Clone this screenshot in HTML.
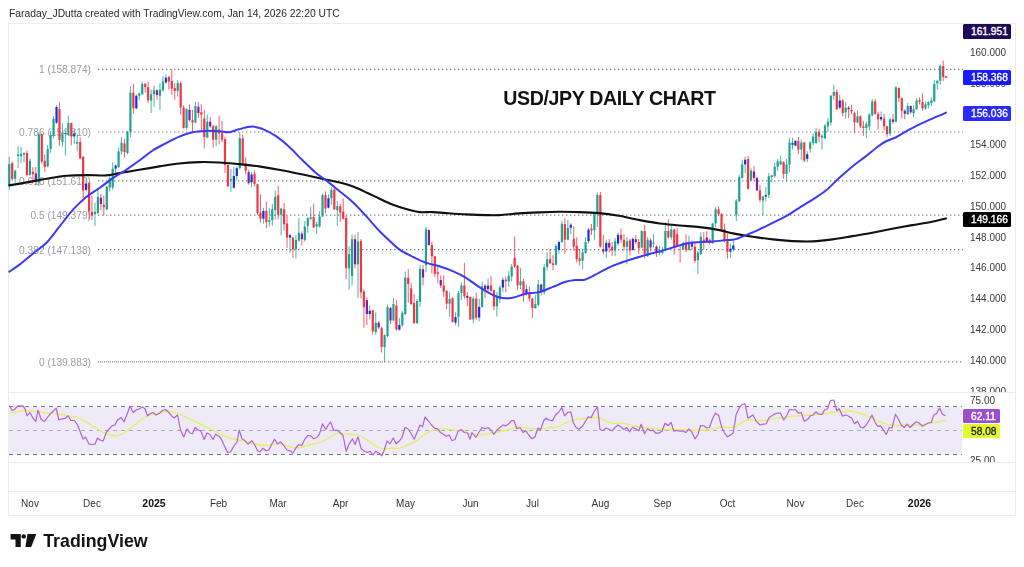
<!DOCTYPE html><html><head><meta charset="utf-8"><title>USD/JPY Daily Chart</title><style>
html,body{margin:0;padding:0;background:#fff}
body{width:1024px;height:567px;position:relative;overflow:hidden;font-family:"Liberation Sans",sans-serif}
.t{position:absolute;white-space:nowrap;line-height:1;will-change:opacity}
.hdr{left:9px;top:9.2px;font-size:10.3px;color:#2a2a2a}
.title{left:503.3px;top:89.2px;font-size:19.6px;letter-spacing:-0.38px;font-weight:bold;color:#111}
.ax{font-size:10px;color:#3a3a3a;left:970px}
.fib{font-size:10.2px;color:#9a9da6;text-align:right;width:84px;left:7px}
.tm{font-size:10px;color:#333;top:498.5px;margin-left:0.5px;transform:translateX(-50%)}
.tm.b{font-weight:bold;font-size:10.5px;color:#111;margin-top:-0.5px}
.box{position:absolute;left:963px;width:40px;padding-left:8px;height:14.5px;font-size:10.2px;color:#fff;line-height:15.5px;text-align:left;white-space:nowrap;border-radius:1.5px;-webkit-text-stroke:0.35px #fff}
.logo{left:43.2px;top:532.7px;font-size:17.8px;font-weight:bold;color:#131313;letter-spacing:0px}
.clip{position:absolute;overflow:hidden;left:965px;width:50px}

</style></head><body>
<div class="t fib" style="top:65.1px">1 (158.874)</div>
<div class="t fib" style="top:127.7px">0.786 (154.810)</div>
<div class="t fib" style="top:177.0px">0.618 (151.610)</div>
<div class="t fib" style="top:211.4px">0.5 (149.379)</div>
<div class="t fib" style="top:245.9px">0.382 (147.138)</div>
<div class="t fib" style="top:357.6px">0 (139.883)</div>
<svg width="1024" height="567" viewBox="0 0 1024 567" style="position:absolute;left:0;top:0">
<rect x="8.5" y="23.5" width="1007" height="492" fill="none" stroke="#ececf0" stroke-width="1"/>
<line x1="8.5" x2="1015.5" y1="392.5" y2="392.5" stroke="#ececf0" stroke-width="1"/>
<line x1="8.5" x2="1015.5" y1="462.5" y2="462.5" stroke="#ececf0" stroke-width="1"/>
<line x1="8.5" x2="1015.5" y1="491.5" y2="491.5" stroke="#ececf0" stroke-width="1"/>
<rect x="9" y="406.5" width="953" height="48" fill="#efeaf8"/>
<line x1="9" x2="962" y1="406.5" y2="406.5" stroke="#787b86" stroke-width="1" stroke-dasharray="4 4"/>
<line x1="9" x2="962" y1="430.5" y2="430.5" stroke="#a9abb5" stroke-width="1" stroke-dasharray="4 4"/>
<line x1="9" x2="962" y1="454.5" y2="454.5" stroke="#787b86" stroke-width="1" stroke-dasharray="4 4"/>
<line x1="98" x2="963" y1="69.4" y2="69.4" stroke="#7f828c" stroke-width="1.2" stroke-dasharray="1.4 2.6"/>
<line x1="98" x2="963" y1="132.0" y2="132.0" stroke="#7f828c" stroke-width="1.2" stroke-dasharray="1.4 2.6"/>
<line x1="98" x2="963" y1="180.8" y2="180.8" stroke="#7f828c" stroke-width="1.2" stroke-dasharray="1.4 2.6"/>
<line x1="98" x2="963" y1="215.2" y2="215.2" stroke="#7f828c" stroke-width="1.2" stroke-dasharray="1.4 2.6"/>
<line x1="98" x2="963" y1="249.6" y2="249.6" stroke="#7f828c" stroke-width="1.2" stroke-dasharray="1.4 2.6"/>
<line x1="98" x2="384" y1="361.9" y2="361.9" stroke="#7f828c" stroke-width="1.2" stroke-dasharray="1 1"/>
<line x1="384" x2="963" y1="361.9" y2="361.9" stroke="#7f828c" stroke-width="1.2" stroke-dasharray="1.4 2.6"/>
<rect x="8.74" y="156.9" width="1" height="33.0" fill="#1fa391" opacity="0.8"/>
<rect x="8.14" y="164.0" width="2.2" height="21.2" fill="#1fa391"/>
<rect x="11.70" y="161.6" width="1" height="19.6" fill="#f23645" opacity="0.8"/>
<rect x="11.10" y="163.2" width="2.2" height="15.7" fill="#f23645"/>
<rect x="14.65" y="169.5" width="1" height="13.3" fill="#1fa391" opacity="0.8"/>
<rect x="14.05" y="171.0" width="2.2" height="7.8" fill="#1fa391"/>
<rect x="17.61" y="145.9" width="1" height="22.0" fill="#1fa391" opacity="0.8"/>
<rect x="17.01" y="154.5" width="2.2" height="1.6" fill="#1fa391"/>
<rect x="20.56" y="146.7" width="1" height="16.5" fill="#1fa391" opacity="0.8"/>
<rect x="19.96" y="153.8" width="2.2" height="2.4" fill="#1fa391"/>
<rect x="23.52" y="152.2" width="1" height="10.2" fill="#1fa391" opacity="0.8"/>
<rect x="22.92" y="153.0" width="2.2" height="1.6" fill="#1fa391"/>
<rect x="26.47" y="150.6" width="1" height="25.9" fill="#f23645" opacity="0.8"/>
<rect x="25.87" y="153.0" width="2.2" height="22.0" fill="#f23645"/>
<rect x="29.43" y="158.5" width="1" height="17.3" fill="#1fa391" opacity="0.8"/>
<rect x="28.83" y="160.8" width="2.2" height="14.1" fill="#1fa391"/>
<rect x="32.38" y="167.1" width="1" height="15.7" fill="#f23645" opacity="0.8"/>
<rect x="31.78" y="171.8" width="2.2" height="2.4" fill="#f23645"/>
<rect x="35.34" y="167.1" width="1" height="18.1" fill="#f23645" opacity="0.8"/>
<rect x="34.74" y="173.4" width="2.2" height="7.8" fill="#7a1fa2"/>
<rect x="38.30" y="132.6" width="1" height="53.4" fill="#1fa391" opacity="0.8"/>
<rect x="37.70" y="134.4" width="2.2" height="48.4" fill="#1fa391"/>
<rect x="41.25" y="133.3" width="1" height="30.6" fill="#f23645" opacity="0.8"/>
<rect x="40.65" y="134.4" width="2.2" height="27.2" fill="#f23645"/>
<rect x="44.21" y="154.5" width="1" height="17.3" fill="#f23645" opacity="0.8"/>
<rect x="43.61" y="160.8" width="2.2" height="6.3" fill="#f23645"/>
<rect x="47.16" y="145.1" width="1" height="22.0" fill="#1fa391" opacity="0.8"/>
<rect x="46.56" y="149.0" width="2.2" height="17.3" fill="#1fa391"/>
<rect x="50.12" y="131.0" width="1" height="22.0" fill="#1fa391" opacity="0.8"/>
<rect x="49.52" y="134.9" width="2.2" height="14.1" fill="#1fa391"/>
<rect x="53.07" y="116.1" width="1" height="22.0" fill="#1fa391" opacity="0.8"/>
<rect x="52.47" y="118.7" width="2.2" height="17.0" fill="#1fa391"/>
<rect x="56.03" y="105.1" width="1" height="18.8" fill="#1fa391" opacity="0.8"/>
<rect x="55.43" y="107.0" width="2.2" height="15.7" fill="#1432d8"/>
<rect x="58.98" y="101.9" width="1" height="44.0" fill="#f23645" opacity="0.8"/>
<rect x="58.38" y="109.0" width="2.2" height="30.8" fill="#f23645"/>
<rect x="61.94" y="123.6" width="1" height="23.1" fill="#1fa391" opacity="0.8"/>
<rect x="61.34" y="134.1" width="2.2" height="7.8" fill="#1fa391"/>
<rect x="64.89" y="131.0" width="1" height="24.3" fill="#1fa391" opacity="0.8"/>
<rect x="64.29" y="133.0" width="2.2" height="1.2" fill="#1fa391"/>
<rect x="67.85" y="115.8" width="1" height="19.9" fill="#1fa391" opacity="0.8"/>
<rect x="67.25" y="123.1" width="2.2" height="11.8" fill="#1fa391"/>
<rect x="70.81" y="122.4" width="1" height="22.8" fill="#f23645" opacity="0.8"/>
<rect x="70.21" y="123.1" width="2.2" height="13.3" fill="#f23645"/>
<rect x="73.76" y="129.4" width="1" height="14.9" fill="#1fa391" opacity="0.8"/>
<rect x="73.16" y="133.3" width="2.2" height="3.1" fill="#1432d8"/>
<rect x="76.72" y="134.1" width="1" height="17.3" fill="#1fa391" opacity="0.8"/>
<rect x="76.12" y="142.0" width="2.2" height="1.6" fill="#1fa391"/>
<rect x="79.67" y="137.3" width="1" height="22.0" fill="#f23645" opacity="0.8"/>
<rect x="79.07" y="142.0" width="2.2" height="16.5" fill="#f23645"/>
<rect x="82.63" y="156.1" width="1" height="42.4" fill="#f23645" opacity="0.8"/>
<rect x="82.03" y="156.9" width="2.2" height="33.8" fill="#f23645"/>
<rect x="85.58" y="178.9" width="1" height="12.6" fill="#1fa391" opacity="0.8"/>
<rect x="84.98" y="183.6" width="2.2" height="6.3" fill="#1432d8"/>
<rect x="88.54" y="182.0" width="1" height="37.2" fill="#f23645" opacity="0.8"/>
<rect x="87.94" y="182.8" width="2.2" height="28.6" fill="#f23645"/>
<rect x="91.49" y="195.4" width="1" height="24.6" fill="#f23645" opacity="0.8"/>
<rect x="90.89" y="211.8" width="2.2" height="3.9" fill="#f23645"/>
<rect x="94.45" y="202.6" width="1" height="23.4" fill="#1fa391" opacity="0.8"/>
<rect x="93.85" y="211.8" width="2.2" height="2.4" fill="#1fa391"/>
<rect x="97.40" y="187.5" width="1" height="26.7" fill="#1fa391" opacity="0.8"/>
<rect x="96.80" y="196.9" width="2.2" height="16.0" fill="#1fa391"/>
<rect x="100.36" y="193.8" width="1" height="16.5" fill="#f23645" opacity="0.8"/>
<rect x="99.76" y="197.7" width="2.2" height="6.3" fill="#7a1fa2"/>
<rect x="103.32" y="195.4" width="1" height="19.9" fill="#f23645" opacity="0.8"/>
<rect x="102.72" y="204.8" width="2.2" height="2.4" fill="#f23645"/>
<rect x="106.27" y="185.9" width="1" height="24.3" fill="#1fa391" opacity="0.8"/>
<rect x="105.67" y="186.7" width="2.2" height="22.8" fill="#1fa391"/>
<rect x="109.23" y="174.2" width="1" height="17.3" fill="#1fa391" opacity="0.8"/>
<rect x="108.63" y="178.1" width="2.2" height="9.4" fill="#1fa391"/>
<rect x="112.18" y="162.4" width="1" height="27.5" fill="#1fa391" opacity="0.8"/>
<rect x="111.58" y="168.7" width="2.2" height="18.8" fill="#1fa391"/>
<rect x="115.14" y="164.7" width="1" height="8.6" fill="#1fa391" opacity="0.8"/>
<rect x="114.54" y="165.5" width="2.2" height="3.1" fill="#1432d8"/>
<rect x="118.09" y="147.5" width="1" height="20.4" fill="#1fa391" opacity="0.8"/>
<rect x="117.49" y="151.4" width="2.2" height="15.7" fill="#1fa391"/>
<rect x="121.05" y="137.3" width="1" height="17.3" fill="#1fa391" opacity="0.8"/>
<rect x="120.45" y="142.8" width="2.2" height="8.6" fill="#1fa391"/>
<rect x="124.00" y="138.8" width="1" height="18.8" fill="#f23645" opacity="0.8"/>
<rect x="123.40" y="143.5" width="2.2" height="8.6" fill="#f23645"/>
<rect x="126.96" y="131.0" width="1" height="23.5" fill="#1fa391" opacity="0.8"/>
<rect x="126.36" y="131.8" width="2.2" height="21.2" fill="#1fa391"/>
<rect x="129.92" y="86.3" width="1" height="51.0" fill="#1fa391" opacity="0.8"/>
<rect x="129.32" y="92.6" width="2.2" height="39.2" fill="#1fa391"/>
<rect x="132.87" y="84.0" width="1" height="29.8" fill="#f23645" opacity="0.8"/>
<rect x="132.27" y="92.6" width="2.2" height="15.7" fill="#f23645"/>
<rect x="135.83" y="94.2" width="1" height="14.9" fill="#1fa391" opacity="0.8"/>
<rect x="135.23" y="95.8" width="2.2" height="12.6" fill="#1432d8"/>
<rect x="138.78" y="92.6" width="1" height="7.1" fill="#1fa391" opacity="0.8"/>
<rect x="138.18" y="93.4" width="2.2" height="2.4" fill="#1fa391"/>
<rect x="141.74" y="81.6" width="1" height="13.3" fill="#1fa391" opacity="0.8"/>
<rect x="141.14" y="84.0" width="2.2" height="10.2" fill="#1fa391"/>
<rect x="144.69" y="83.2" width="1" height="9.4" fill="#f23645" opacity="0.8"/>
<rect x="144.09" y="84.0" width="2.2" height="3.1" fill="#f23645"/>
<rect x="147.65" y="81.6" width="1" height="21.2" fill="#f23645" opacity="0.8"/>
<rect x="147.05" y="87.1" width="2.2" height="13.3" fill="#f23645"/>
<rect x="150.60" y="89.5" width="1" height="23.5" fill="#1fa391" opacity="0.8"/>
<rect x="150.00" y="94.2" width="2.2" height="6.3" fill="#1fa391"/>
<rect x="153.56" y="85.5" width="1" height="21.2" fill="#1fa391" opacity="0.8"/>
<rect x="152.96" y="90.3" width="2.2" height="3.9" fill="#1fa391"/>
<rect x="156.51" y="89.5" width="1" height="10.2" fill="#f23645" opacity="0.8"/>
<rect x="155.91" y="90.3" width="2.2" height="4.7" fill="#7a1fa2"/>
<rect x="159.47" y="83.2" width="1" height="26.7" fill="#1fa391" opacity="0.8"/>
<rect x="158.87" y="89.5" width="2.2" height="6.3" fill="#1fa391"/>
<rect x="162.43" y="76.1" width="1" height="15.7" fill="#1fa391" opacity="0.8"/>
<rect x="161.83" y="81.6" width="2.2" height="8.6" fill="#1fa391"/>
<rect x="165.38" y="74.6" width="1" height="9.4" fill="#1fa391" opacity="0.8"/>
<rect x="164.78" y="77.7" width="2.2" height="4.7" fill="#1432d8"/>
<rect x="168.34" y="76.1" width="1" height="13.3" fill="#f23645" opacity="0.8"/>
<rect x="167.74" y="76.9" width="2.2" height="4.7" fill="#f23645"/>
<rect x="171.29" y="69.4" width="1" height="25.6" fill="#f23645" opacity="0.8"/>
<rect x="170.69" y="80.8" width="2.2" height="7.8" fill="#f23645"/>
<rect x="174.25" y="83.2" width="1" height="16.5" fill="#f23645" opacity="0.8"/>
<rect x="173.65" y="87.9" width="2.2" height="3.1" fill="#f23645"/>
<rect x="177.20" y="80.1" width="1" height="16.5" fill="#1fa391" opacity="0.8"/>
<rect x="176.60" y="83.2" width="2.2" height="7.8" fill="#1fa391"/>
<rect x="180.16" y="81.6" width="1" height="33.0" fill="#f23645" opacity="0.8"/>
<rect x="179.56" y="83.2" width="2.2" height="24.3" fill="#f23645"/>
<rect x="183.11" y="105.2" width="1" height="23.5" fill="#f23645" opacity="0.8"/>
<rect x="182.51" y="107.5" width="2.2" height="20.4" fill="#f23645"/>
<rect x="186.07" y="108.3" width="1" height="21.2" fill="#1fa391" opacity="0.8"/>
<rect x="185.47" y="109.1" width="2.2" height="18.8" fill="#1fa391"/>
<rect x="189.03" y="104.4" width="1" height="17.3" fill="#f23645" opacity="0.8"/>
<rect x="188.43" y="109.9" width="2.2" height="10.2" fill="#7a1fa2"/>
<rect x="191.98" y="109.9" width="1" height="22.8" fill="#f23645" opacity="0.8"/>
<rect x="191.38" y="120.1" width="2.2" height="2.4" fill="#f23645"/>
<rect x="194.94" y="102.0" width="1" height="21.2" fill="#1fa391" opacity="0.8"/>
<rect x="194.34" y="106.0" width="2.2" height="16.5" fill="#1fa391"/>
<rect x="197.89" y="102.0" width="1" height="15.7" fill="#f23645" opacity="0.8"/>
<rect x="197.29" y="106.7" width="2.2" height="6.3" fill="#7a1fa2"/>
<rect x="200.85" y="104.4" width="1" height="27.5" fill="#f23645" opacity="0.8"/>
<rect x="200.25" y="112.2" width="2.2" height="2.4" fill="#f23645"/>
<rect x="203.80" y="109.9" width="1" height="38.5" fill="#f23645" opacity="0.8"/>
<rect x="203.20" y="118.5" width="2.2" height="18.8" fill="#f23645"/>
<rect x="206.76" y="114.6" width="1" height="23.5" fill="#1fa391" opacity="0.8"/>
<rect x="206.16" y="121.7" width="2.2" height="15.7" fill="#1fa391"/>
<rect x="209.71" y="116.9" width="1" height="11.0" fill="#f23645" opacity="0.8"/>
<rect x="209.11" y="121.7" width="2.2" height="4.7" fill="#7a1fa2"/>
<rect x="212.67" y="124.8" width="1" height="22.8" fill="#f23645" opacity="0.8"/>
<rect x="212.07" y="126.1" width="2.2" height="13.7" fill="#f23645"/>
<rect x="215.62" y="124.8" width="1" height="21.2" fill="#1fa391" opacity="0.8"/>
<rect x="215.03" y="126.4" width="2.2" height="13.3" fill="#1fa391"/>
<rect x="218.58" y="115.4" width="1" height="29.0" fill="#f23645" opacity="0.8"/>
<rect x="217.98" y="129.5" width="2.2" height="3.9" fill="#f23645"/>
<rect x="221.54" y="120.9" width="1" height="21.2" fill="#f23645" opacity="0.8"/>
<rect x="220.94" y="133.4" width="2.2" height="6.3" fill="#f23645"/>
<rect x="224.49" y="136.8" width="1" height="36.1" fill="#f23645" opacity="0.8"/>
<rect x="223.89" y="139.1" width="2.2" height="25.9" fill="#f23645"/>
<rect x="227.45" y="161.9" width="1" height="25.1" fill="#f23645" opacity="0.8"/>
<rect x="226.85" y="165.0" width="2.2" height="21.2" fill="#f23645"/>
<rect x="230.40" y="169.0" width="1" height="22.8" fill="#1fa391" opacity="0.8"/>
<rect x="229.80" y="179.1" width="2.2" height="1.2" fill="#1fa391"/>
<rect x="233.36" y="166.6" width="1" height="22.0" fill="#1fa391" opacity="0.8"/>
<rect x="232.76" y="176.0" width="2.2" height="11.8" fill="#1432d8"/>
<rect x="236.31" y="166.6" width="1" height="14.1" fill="#1fa391" opacity="0.8"/>
<rect x="235.71" y="168.2" width="2.2" height="7.8" fill="#1432d8"/>
<rect x="239.27" y="132.1" width="1" height="37.7" fill="#1fa391" opacity="0.8"/>
<rect x="238.67" y="138.3" width="2.2" height="29.8" fill="#1fa391"/>
<rect x="242.22" y="134.4" width="1" height="29.8" fill="#f23645" opacity="0.8"/>
<rect x="241.62" y="138.3" width="2.2" height="25.1" fill="#f23645"/>
<rect x="245.18" y="157.2" width="1" height="17.3" fill="#f23645" opacity="0.8"/>
<rect x="244.58" y="163.5" width="2.2" height="7.1" fill="#f23645"/>
<rect x="248.14" y="169.7" width="1" height="14.9" fill="#f23645" opacity="0.8"/>
<rect x="247.54" y="172.1" width="2.2" height="11.0" fill="#7a1fa2"/>
<rect x="251.09" y="172.1" width="1" height="14.9" fill="#1fa391" opacity="0.8"/>
<rect x="250.49" y="174.5" width="2.2" height="7.8" fill="#1432d8"/>
<rect x="254.05" y="170.5" width="1" height="15.7" fill="#f23645" opacity="0.8"/>
<rect x="253.45" y="173.7" width="2.2" height="10.2" fill="#f23645"/>
<rect x="257.00" y="183.7" width="1" height="31.1" fill="#f23645" opacity="0.8"/>
<rect x="256.40" y="184.2" width="2.2" height="29.0" fill="#f23645"/>
<rect x="259.96" y="194.4" width="1" height="28.3" fill="#f23645" opacity="0.8"/>
<rect x="259.36" y="212.5" width="2.2" height="6.3" fill="#f23645"/>
<rect x="262.91" y="207.8" width="1" height="15.7" fill="#1fa391" opacity="0.8"/>
<rect x="262.31" y="210.9" width="2.2" height="7.8" fill="#1432d8"/>
<rect x="265.87" y="201.5" width="1" height="26.7" fill="#f23645" opacity="0.8"/>
<rect x="265.27" y="210.9" width="2.2" height="11.0" fill="#f23645"/>
<rect x="268.82" y="207.8" width="1" height="18.8" fill="#1fa391" opacity="0.8"/>
<rect x="268.22" y="220.3" width="2.2" height="1.6" fill="#1fa391"/>
<rect x="271.78" y="203.8" width="1" height="22.0" fill="#1fa391" opacity="0.8"/>
<rect x="271.18" y="209.3" width="2.2" height="11.0" fill="#1fa391"/>
<rect x="274.74" y="190.5" width="1" height="29.0" fill="#1fa391" opacity="0.8"/>
<rect x="274.13" y="196.8" width="2.2" height="13.3" fill="#1fa391"/>
<rect x="277.69" y="185.8" width="1" height="33.8" fill="#f23645" opacity="0.8"/>
<rect x="277.09" y="195.2" width="2.2" height="19.6" fill="#f23645"/>
<rect x="280.65" y="207.8" width="1" height="27.5" fill="#1fa391" opacity="0.8"/>
<rect x="280.05" y="208.5" width="2.2" height="6.3" fill="#1fa391"/>
<rect x="283.60" y="203.1" width="1" height="27.5" fill="#f23645" opacity="0.8"/>
<rect x="283.00" y="209.3" width="2.2" height="14.9" fill="#f23645"/>
<rect x="286.56" y="215.6" width="1" height="32.2" fill="#f23645" opacity="0.8"/>
<rect x="285.96" y="223.5" width="2.2" height="14.1" fill="#f23645"/>
<rect x="289.51" y="233.7" width="1" height="18.8" fill="#1fa391" opacity="0.8"/>
<rect x="288.91" y="235.2" width="2.2" height="2.4" fill="#1432d8"/>
<rect x="292.47" y="236.8" width="1" height="21.2" fill="#f23645" opacity="0.8"/>
<rect x="291.87" y="237.6" width="2.2" height="11.8" fill="#f23645"/>
<rect x="295.42" y="235.2" width="1" height="23.5" fill="#1fa391" opacity="0.8"/>
<rect x="294.82" y="239.9" width="2.2" height="9.4" fill="#1fa391"/>
<rect x="298.38" y="218.0" width="1" height="23.5" fill="#1fa391" opacity="0.8"/>
<rect x="297.78" y="232.9" width="2.2" height="7.8" fill="#1fa391"/>
<rect x="301.33" y="231.3" width="1" height="14.1" fill="#f23645" opacity="0.8"/>
<rect x="300.73" y="233.7" width="2.2" height="5.5" fill="#7a1fa2"/>
<rect x="304.29" y="221.1" width="1" height="20.4" fill="#1fa391" opacity="0.8"/>
<rect x="303.69" y="226.6" width="2.2" height="13.3" fill="#1fa391"/>
<rect x="307.25" y="217.2" width="1" height="15.7" fill="#1fa391" opacity="0.8"/>
<rect x="306.65" y="218.0" width="2.2" height="7.8" fill="#1fa391"/>
<rect x="310.20" y="207.0" width="1" height="13.3" fill="#1fa391" opacity="0.8"/>
<rect x="309.60" y="217.2" width="2.2" height="1.6" fill="#1fa391"/>
<rect x="313.16" y="203.8" width="1" height="24.3" fill="#f23645" opacity="0.8"/>
<rect x="312.56" y="217.2" width="2.2" height="10.2" fill="#f23645"/>
<rect x="316.11" y="221.9" width="1" height="11.8" fill="#1fa391" opacity="0.8"/>
<rect x="315.51" y="224.2" width="2.2" height="2.4" fill="#1fa391"/>
<rect x="319.07" y="210.9" width="1" height="16.5" fill="#1fa391" opacity="0.8"/>
<rect x="318.47" y="216.4" width="2.2" height="10.2" fill="#1fa391"/>
<rect x="322.02" y="193.6" width="1" height="23.5" fill="#1fa391" opacity="0.8"/>
<rect x="321.42" y="195.2" width="2.2" height="21.2" fill="#1fa391"/>
<rect x="324.98" y="191.3" width="1" height="22.0" fill="#f23645" opacity="0.8"/>
<rect x="324.38" y="195.2" width="2.2" height="13.3" fill="#f23645"/>
<rect x="327.93" y="194.4" width="1" height="14.1" fill="#1fa391" opacity="0.8"/>
<rect x="327.33" y="198.3" width="2.2" height="9.4" fill="#1432d8"/>
<rect x="330.89" y="187.4" width="1" height="17.3" fill="#1fa391" opacity="0.8"/>
<rect x="330.29" y="189.7" width="2.2" height="8.6" fill="#1fa391"/>
<rect x="333.84" y="187.4" width="1" height="22.8" fill="#f23645" opacity="0.8"/>
<rect x="333.24" y="189.7" width="2.2" height="19.6" fill="#f23645"/>
<rect x="336.80" y="200.7" width="1" height="25.1" fill="#1fa391" opacity="0.8"/>
<rect x="336.20" y="206.2" width="2.2" height="3.9" fill="#1fa391"/>
<rect x="339.76" y="203.8" width="1" height="18.1" fill="#f23645" opacity="0.8"/>
<rect x="339.16" y="206.2" width="2.2" height="6.3" fill="#f23645"/>
<rect x="342.71" y="198.3" width="1" height="21.2" fill="#f23645" opacity="0.8"/>
<rect x="342.11" y="211.7" width="2.2" height="7.1" fill="#f23645"/>
<rect x="345.67" y="216.0" width="1" height="63.2" fill="#f23645" opacity="0.8"/>
<rect x="345.07" y="218.0" width="2.2" height="50.3" fill="#f23645"/>
<rect x="348.62" y="246.3" width="1" height="43.2" fill="#1fa391" opacity="0.8"/>
<rect x="348.02" y="254.1" width="2.2" height="14.2" fill="#1fa391"/>
<rect x="351.58" y="234.5" width="1" height="51.0" fill="#1fa391" opacity="0.8"/>
<rect x="350.98" y="239.2" width="2.2" height="36.9" fill="#1fa391"/>
<rect x="354.53" y="234.5" width="1" height="33.8" fill="#f23645" opacity="0.8"/>
<rect x="353.93" y="239.2" width="2.2" height="25.1" fill="#7a1fa2"/>
<rect x="357.49" y="232.1" width="1" height="66.0" fill="#1fa391" opacity="0.8"/>
<rect x="356.89" y="241.6" width="2.2" height="22.7" fill="#1fa391"/>
<rect x="360.44" y="239.0" width="1" height="59.5" fill="#f23645" opacity="0.8"/>
<rect x="359.84" y="241.0" width="2.2" height="51.4" fill="#f23645"/>
<rect x="363.40" y="289.5" width="1" height="38.1" fill="#f23645" opacity="0.8"/>
<rect x="362.80" y="291.5" width="2.2" height="15.7" fill="#f23645"/>
<rect x="366.36" y="297.5" width="1" height="27.5" fill="#f23645" opacity="0.8"/>
<rect x="365.76" y="300.1" width="2.2" height="13.9" fill="#7a1fa2"/>
<rect x="369.31" y="305.4" width="1" height="14.1" fill="#1fa391" opacity="0.8"/>
<rect x="368.71" y="310.8" width="2.2" height="3.2" fill="#1432d8"/>
<rect x="372.27" y="309.9" width="1" height="24.6" fill="#f23645" opacity="0.8"/>
<rect x="371.67" y="310.3" width="2.2" height="21.0" fill="#f23645"/>
<rect x="375.22" y="312.4" width="1" height="22.1" fill="#1fa391" opacity="0.8"/>
<rect x="374.62" y="322.7" width="2.2" height="9.4" fill="#1fa391"/>
<rect x="378.18" y="321.0" width="1" height="8.0" fill="#f23645" opacity="0.8"/>
<rect x="377.58" y="322.7" width="2.2" height="4.7" fill="#7a1fa2"/>
<rect x="381.13" y="326.6" width="1" height="25.9" fill="#f23645" opacity="0.8"/>
<rect x="380.53" y="328.2" width="2.2" height="18.8" fill="#f23645"/>
<rect x="384.09" y="334.5" width="1" height="27.4" fill="#1fa391" opacity="0.8"/>
<rect x="383.49" y="335.2" width="2.2" height="11.8" fill="#1fa391"/>
<rect x="387.04" y="304.5" width="1" height="32.5" fill="#1fa391" opacity="0.8"/>
<rect x="386.44" y="307.2" width="2.2" height="28.8" fill="#1fa391"/>
<rect x="390.00" y="307.0" width="1" height="17.2" fill="#f23645" opacity="0.8"/>
<rect x="389.40" y="308.0" width="2.2" height="12.5" fill="#7a1fa2"/>
<rect x="392.95" y="298.2" width="1" height="23.3" fill="#1fa391" opacity="0.8"/>
<rect x="392.35" y="304.0" width="2.2" height="16.5" fill="#1fa391"/>
<rect x="395.91" y="300.2" width="1" height="30.3" fill="#f23645" opacity="0.8"/>
<rect x="395.31" y="305.6" width="2.2" height="23.8" fill="#f23645"/>
<rect x="398.87" y="318.0" width="1" height="12.5" fill="#1fa391" opacity="0.8"/>
<rect x="398.27" y="325.0" width="2.2" height="4.7" fill="#1432d8"/>
<rect x="401.82" y="311.0" width="1" height="15.6" fill="#1fa391" opacity="0.8"/>
<rect x="401.22" y="312.7" width="2.2" height="12.6" fill="#1fa391"/>
<rect x="404.78" y="271.4" width="1" height="43.6" fill="#1fa391" opacity="0.8"/>
<rect x="404.18" y="277.7" width="2.2" height="36.3" fill="#1fa391"/>
<rect x="407.73" y="269.0" width="1" height="33.6" fill="#f23645" opacity="0.8"/>
<rect x="407.13" y="277.7" width="2.2" height="6.3" fill="#f23645"/>
<rect x="410.69" y="283.2" width="1" height="21.8" fill="#f23645" opacity="0.8"/>
<rect x="410.09" y="288.4" width="2.2" height="15.6" fill="#f23645"/>
<rect x="413.64" y="294.2" width="1" height="29.8" fill="#f23645" opacity="0.8"/>
<rect x="413.04" y="303.0" width="2.2" height="20.0" fill="#f23645"/>
<rect x="416.60" y="298.9" width="1" height="25.1" fill="#1fa391" opacity="0.8"/>
<rect x="416.00" y="301.0" width="2.2" height="22.0" fill="#1fa391"/>
<rect x="419.55" y="265.1" width="1" height="41.4" fill="#1fa391" opacity="0.8"/>
<rect x="418.95" y="268.8" width="2.2" height="33.0" fill="#1fa391"/>
<rect x="422.51" y="265.1" width="1" height="20.4" fill="#f23645" opacity="0.8"/>
<rect x="421.91" y="269.2" width="2.2" height="8.3" fill="#7a1fa2"/>
<rect x="425.47" y="227.0" width="1" height="45.4" fill="#1fa391" opacity="0.8"/>
<rect x="424.87" y="229.3" width="2.2" height="36.0" fill="#1fa391"/>
<rect x="428.42" y="229.5" width="1" height="16.0" fill="#f23645" opacity="0.8"/>
<rect x="427.82" y="230.1" width="2.2" height="14.9" fill="#7a1fa2"/>
<rect x="431.38" y="241.6" width="1" height="31.9" fill="#f23645" opacity="0.8"/>
<rect x="430.78" y="245.0" width="2.2" height="11.3" fill="#f23645"/>
<rect x="434.33" y="255.7" width="1" height="21.2" fill="#f23645" opacity="0.8"/>
<rect x="433.73" y="256.3" width="2.2" height="17.6" fill="#f23645"/>
<rect x="437.29" y="266.7" width="1" height="16.5" fill="#f23645" opacity="0.8"/>
<rect x="436.69" y="272.2" width="2.2" height="1.6" fill="#f23645"/>
<rect x="440.24" y="275.3" width="1" height="12.6" fill="#f23645" opacity="0.8"/>
<rect x="439.64" y="280.0" width="2.2" height="5.5" fill="#7a1fa2"/>
<rect x="443.20" y="275.3" width="1" height="21.7" fill="#f23645" opacity="0.8"/>
<rect x="442.60" y="285.5" width="2.2" height="6.1" fill="#f23645"/>
<rect x="446.15" y="290.2" width="1" height="19.0" fill="#f23645" opacity="0.8"/>
<rect x="445.55" y="291.0" width="2.2" height="12.7" fill="#f23645"/>
<rect x="449.11" y="292.6" width="1" height="24.0" fill="#1fa391" opacity="0.8"/>
<rect x="448.51" y="299.0" width="2.2" height="4.7" fill="#1fa391"/>
<rect x="452.06" y="297.3" width="1" height="25.2" fill="#f23645" opacity="0.8"/>
<rect x="451.46" y="298.2" width="2.2" height="23.6" fill="#f23645"/>
<rect x="455.02" y="312.3" width="1" height="13.0" fill="#1fa391" opacity="0.8"/>
<rect x="454.42" y="317.0" width="2.2" height="5.6" fill="#1432d8"/>
<rect x="457.98" y="291.0" width="1" height="35.8" fill="#1fa391" opacity="0.8"/>
<rect x="457.38" y="293.0" width="2.2" height="23.7" fill="#1fa391"/>
<rect x="460.93" y="282.4" width="1" height="17.8" fill="#1fa391" opacity="0.8"/>
<rect x="460.33" y="285.6" width="2.2" height="7.4" fill="#1fa391"/>
<rect x="463.89" y="262.8" width="1" height="35.8" fill="#f23645" opacity="0.8"/>
<rect x="463.29" y="285.5" width="2.2" height="10.8" fill="#f23645"/>
<rect x="466.84" y="292.0" width="1" height="14.4" fill="#f23645" opacity="0.8"/>
<rect x="466.24" y="295.9" width="2.2" height="2.0" fill="#7a1fa2"/>
<rect x="469.80" y="296.5" width="1" height="23.5" fill="#f23645" opacity="0.8"/>
<rect x="469.20" y="297.0" width="2.2" height="22.4" fill="#f23645"/>
<rect x="472.75" y="296.5" width="1" height="26.5" fill="#1fa391" opacity="0.8"/>
<rect x="472.15" y="298.6" width="2.2" height="20.8" fill="#1fa391"/>
<rect x="475.71" y="292.6" width="1" height="27.4" fill="#f23645" opacity="0.8"/>
<rect x="475.11" y="298.6" width="2.2" height="19.2" fill="#f23645"/>
<rect x="478.66" y="298.9" width="1" height="22.5" fill="#1fa391" opacity="0.8"/>
<rect x="478.06" y="306.9" width="2.2" height="10.6" fill="#1432d8"/>
<rect x="481.62" y="281.6" width="1" height="25.9" fill="#1fa391" opacity="0.8"/>
<rect x="481.02" y="286.4" width="2.2" height="20.5" fill="#1fa391"/>
<rect x="484.58" y="284.0" width="1" height="14.2" fill="#f23645" opacity="0.8"/>
<rect x="483.98" y="285.7" width="2.2" height="3.9" fill="#7a1fa2"/>
<rect x="487.53" y="278.5" width="1" height="13.1" fill="#1fa391" opacity="0.8"/>
<rect x="486.93" y="285.6" width="2.2" height="3.6" fill="#1432d8"/>
<rect x="490.49" y="276.1" width="1" height="15.4" fill="#f23645" opacity="0.8"/>
<rect x="489.89" y="285.4" width="2.2" height="5.6" fill="#f23645"/>
<rect x="493.44" y="289.5" width="1" height="20.8" fill="#f23645" opacity="0.8"/>
<rect x="492.84" y="290.2" width="2.2" height="16.2" fill="#f23645"/>
<rect x="496.40" y="292.0" width="1" height="24.6" fill="#1fa391" opacity="0.8"/>
<rect x="495.80" y="295.6" width="2.2" height="10.8" fill="#1fa391"/>
<rect x="499.35" y="285.2" width="1" height="18.0" fill="#1fa391" opacity="0.8"/>
<rect x="498.75" y="287.5" width="2.2" height="11.8" fill="#1fa391"/>
<rect x="502.31" y="277.4" width="1" height="14.9" fill="#1fa391" opacity="0.8"/>
<rect x="501.71" y="279.7" width="2.2" height="7.8" fill="#1432d8"/>
<rect x="505.26" y="276.6" width="1" height="15.7" fill="#f23645" opacity="0.8"/>
<rect x="504.66" y="279.7" width="2.2" height="1.6" fill="#f23645"/>
<rect x="508.22" y="271.1" width="1" height="15.7" fill="#1fa391" opacity="0.8"/>
<rect x="507.62" y="275.8" width="2.2" height="5.5" fill="#1fa391"/>
<rect x="511.17" y="264.0" width="1" height="17.3" fill="#1fa391" opacity="0.8"/>
<rect x="510.57" y="266.4" width="2.2" height="10.2" fill="#1fa391"/>
<rect x="514.13" y="236.6" width="1" height="31.4" fill="#f23645" opacity="0.8"/>
<rect x="513.53" y="257.8" width="2.2" height="8.6" fill="#f23645"/>
<rect x="517.09" y="264.8" width="1" height="25.1" fill="#f23645" opacity="0.8"/>
<rect x="516.49" y="265.6" width="2.2" height="19.6" fill="#f23645"/>
<rect x="520.04" y="268.0" width="1" height="21.2" fill="#1fa391" opacity="0.8"/>
<rect x="519.44" y="281.3" width="2.2" height="3.9" fill="#1fa391"/>
<rect x="523.00" y="279.0" width="1" height="22.8" fill="#f23645" opacity="0.8"/>
<rect x="522.40" y="281.3" width="2.2" height="12.6" fill="#f23645"/>
<rect x="525.95" y="284.5" width="1" height="11.0" fill="#1fa391" opacity="0.8"/>
<rect x="525.35" y="289.2" width="2.2" height="4.7" fill="#1432d8"/>
<rect x="528.91" y="286.8" width="1" height="14.9" fill="#f23645" opacity="0.8"/>
<rect x="528.31" y="293.1" width="2.2" height="5.5" fill="#f23645"/>
<rect x="531.86" y="297.8" width="1" height="20.4" fill="#f23645" opacity="0.8"/>
<rect x="531.26" y="298.6" width="2.2" height="9.4" fill="#f23645"/>
<rect x="534.82" y="294.7" width="1" height="14.1" fill="#1fa391" opacity="0.8"/>
<rect x="534.22" y="304.1" width="2.2" height="3.9" fill="#1fa391"/>
<rect x="537.77" y="279.7" width="1" height="26.7" fill="#1fa391" opacity="0.8"/>
<rect x="537.17" y="284.5" width="2.2" height="20.4" fill="#1fa391"/>
<rect x="540.73" y="283.7" width="1" height="11.8" fill="#f23645" opacity="0.8"/>
<rect x="540.13" y="284.5" width="2.2" height="6.3" fill="#7a1fa2"/>
<rect x="543.69" y="264.0" width="1" height="30.6" fill="#1fa391" opacity="0.8"/>
<rect x="543.09" y="267.2" width="2.2" height="25.1" fill="#1fa391"/>
<rect x="546.64" y="252.3" width="1" height="18.1" fill="#1fa391" opacity="0.8"/>
<rect x="546.04" y="259.3" width="2.2" height="7.8" fill="#1fa391"/>
<rect x="549.60" y="249.1" width="1" height="14.9" fill="#f23645" opacity="0.8"/>
<rect x="549.00" y="259.3" width="2.2" height="3.9" fill="#f23645"/>
<rect x="552.55" y="255.4" width="1" height="14.9" fill="#f23645" opacity="0.8"/>
<rect x="551.95" y="263.3" width="2.2" height="1.6" fill="#f23645"/>
<rect x="555.51" y="244.4" width="1" height="21.2" fill="#1fa391" opacity="0.8"/>
<rect x="554.91" y="246.0" width="2.2" height="18.8" fill="#1fa391"/>
<rect x="558.46" y="240.5" width="1" height="13.3" fill="#1fa391" opacity="0.8"/>
<rect x="557.86" y="242.1" width="2.2" height="7.8" fill="#1432d8"/>
<rect x="561.42" y="220.8" width="1" height="22.0" fill="#1fa391" opacity="0.8"/>
<rect x="560.82" y="224.0" width="2.2" height="18.1" fill="#1fa391"/>
<rect x="564.37" y="218.5" width="1" height="35.3" fill="#f23645" opacity="0.8"/>
<rect x="563.77" y="224.0" width="2.2" height="15.7" fill="#f23645"/>
<rect x="567.33" y="220.0" width="1" height="20.4" fill="#1fa391" opacity="0.8"/>
<rect x="566.73" y="227.9" width="2.2" height="11.8" fill="#1fa391"/>
<rect x="570.28" y="223.2" width="1" height="11.0" fill="#1fa391" opacity="0.8"/>
<rect x="569.68" y="224.7" width="2.2" height="3.1" fill="#1432d8"/>
<rect x="573.24" y="226.3" width="1" height="24.3" fill="#f23645" opacity="0.8"/>
<rect x="572.64" y="238.9" width="2.2" height="7.8" fill="#f23645"/>
<rect x="576.20" y="237.3" width="1" height="25.1" fill="#f23645" opacity="0.8"/>
<rect x="575.60" y="245.9" width="2.2" height="13.3" fill="#f23645"/>
<rect x="579.15" y="249.1" width="1" height="16.5" fill="#f23645" opacity="0.8"/>
<rect x="578.55" y="258.5" width="2.2" height="2.4" fill="#f23645"/>
<rect x="582.11" y="249.1" width="1" height="20.4" fill="#1fa391" opacity="0.8"/>
<rect x="581.51" y="252.2" width="2.2" height="8.6" fill="#1fa391"/>
<rect x="585.06" y="237.3" width="1" height="16.5" fill="#1fa391" opacity="0.8"/>
<rect x="584.46" y="242.0" width="2.2" height="11.0" fill="#1fa391"/>
<rect x="588.02" y="227.9" width="1" height="15.7" fill="#1fa391" opacity="0.8"/>
<rect x="587.42" y="229.5" width="2.2" height="11.8" fill="#1432d8"/>
<rect x="590.97" y="224.0" width="1" height="11.0" fill="#f23645" opacity="0.8"/>
<rect x="590.37" y="228.7" width="2.2" height="1.6" fill="#f23645"/>
<rect x="593.93" y="213.0" width="1" height="26.7" fill="#1fa391" opacity="0.8"/>
<rect x="593.33" y="213.8" width="2.2" height="16.5" fill="#1fa391"/>
<rect x="596.88" y="192.6" width="1" height="34.5" fill="#1fa391" opacity="0.8"/>
<rect x="596.28" y="194.9" width="2.2" height="18.8" fill="#1fa391"/>
<rect x="599.84" y="191.8" width="1" height="55.7" fill="#f23645" opacity="0.8"/>
<rect x="599.24" y="194.9" width="2.2" height="51.8" fill="#f23645"/>
<rect x="602.80" y="234.9" width="1" height="19.6" fill="#f23645" opacity="0.8"/>
<rect x="602.20" y="249.1" width="2.2" height="2.4" fill="#7a1fa2"/>
<rect x="605.75" y="239.7" width="1" height="18.1" fill="#1fa391" opacity="0.8"/>
<rect x="605.15" y="242.8" width="2.2" height="8.6" fill="#1432d8"/>
<rect x="608.71" y="238.9" width="1" height="13.3" fill="#f23645" opacity="0.8"/>
<rect x="608.11" y="242.8" width="2.2" height="4.7" fill="#7a1fa2"/>
<rect x="611.66" y="242.0" width="1" height="14.1" fill="#f23645" opacity="0.8"/>
<rect x="611.06" y="246.7" width="2.2" height="3.9" fill="#f23645"/>
<rect x="614.62" y="238.1" width="1" height="18.1" fill="#1fa391" opacity="0.8"/>
<rect x="614.02" y="241.2" width="2.2" height="9.4" fill="#1fa391"/>
<rect x="617.57" y="232.6" width="1" height="13.3" fill="#1fa391" opacity="0.8"/>
<rect x="616.97" y="234.9" width="2.2" height="8.6" fill="#1432d8"/>
<rect x="620.53" y="228.7" width="1" height="14.1" fill="#f23645" opacity="0.8"/>
<rect x="619.93" y="234.9" width="2.2" height="4.7" fill="#f23645"/>
<rect x="623.48" y="234.2" width="1" height="16.5" fill="#f23645" opacity="0.8"/>
<rect x="622.88" y="239.7" width="2.2" height="7.1" fill="#f23645"/>
<rect x="626.44" y="237.3" width="1" height="26.7" fill="#1fa391" opacity="0.8"/>
<rect x="625.84" y="241.2" width="2.2" height="5.5" fill="#1fa391"/>
<rect x="629.39" y="238.9" width="1" height="16.5" fill="#f23645" opacity="0.8"/>
<rect x="628.79" y="240.4" width="2.2" height="10.2" fill="#f23645"/>
<rect x="632.35" y="237.3" width="1" height="13.3" fill="#1fa391" opacity="0.8"/>
<rect x="631.75" y="238.9" width="2.2" height="11.0" fill="#1432d8"/>
<rect x="635.31" y="234.9" width="1" height="9.4" fill="#f23645" opacity="0.8"/>
<rect x="634.71" y="239.3" width="2.2" height="2.7" fill="#7a1fa2"/>
<rect x="638.26" y="238.9" width="1" height="14.9" fill="#f23645" opacity="0.8"/>
<rect x="637.66" y="242.0" width="2.2" height="6.3" fill="#f23645"/>
<rect x="641.22" y="230.2" width="1" height="18.1" fill="#1fa391" opacity="0.8"/>
<rect x="640.62" y="231.0" width="2.2" height="16.5" fill="#1fa391"/>
<rect x="644.17" y="224.7" width="1" height="33.8" fill="#f23645" opacity="0.8"/>
<rect x="643.57" y="231.0" width="2.2" height="22.8" fill="#f23645"/>
<rect x="647.13" y="237.3" width="1" height="19.6" fill="#1fa391" opacity="0.8"/>
<rect x="646.53" y="239.7" width="2.2" height="16.5" fill="#1fa391"/>
<rect x="650.08" y="238.1" width="1" height="13.3" fill="#f23645" opacity="0.8"/>
<rect x="649.48" y="240.4" width="2.2" height="7.1" fill="#7a1fa2"/>
<rect x="653.04" y="234.2" width="1" height="13.3" fill="#1fa391" opacity="0.8"/>
<rect x="652.44" y="242.6" width="2.2" height="1.2" fill="#1fa391"/>
<rect x="655.99" y="245.1" width="1" height="11.8" fill="#f23645" opacity="0.8"/>
<rect x="655.39" y="246.7" width="2.2" height="6.3" fill="#7a1fa2"/>
<rect x="658.95" y="245.9" width="1" height="9.4" fill="#1fa391" opacity="0.8"/>
<rect x="658.35" y="251.4" width="2.2" height="1.6" fill="#1fa391"/>
<rect x="661.91" y="246.7" width="1" height="7.8" fill="#1fa391" opacity="0.8"/>
<rect x="661.31" y="250.6" width="2.2" height="2.4" fill="#1fa391"/>
<rect x="664.86" y="222.4" width="1" height="29.0" fill="#1fa391" opacity="0.8"/>
<rect x="664.26" y="231.0" width="2.2" height="19.6" fill="#1fa391"/>
<rect x="667.82" y="219.2" width="1" height="19.6" fill="#f23645" opacity="0.8"/>
<rect x="667.22" y="231.0" width="2.2" height="6.3" fill="#f23645"/>
<rect x="670.77" y="225.5" width="1" height="14.1" fill="#1fa391" opacity="0.8"/>
<rect x="670.17" y="229.5" width="2.2" height="7.8" fill="#1fa391"/>
<rect x="673.73" y="228.7" width="1" height="25.9" fill="#f23645" opacity="0.8"/>
<rect x="673.13" y="229.5" width="2.2" height="18.1" fill="#f23645"/>
<rect x="676.68" y="227.9" width="1" height="18.1" fill="#f23645" opacity="0.8"/>
<rect x="676.08" y="234.2" width="2.2" height="11.0" fill="#f23645"/>
<rect x="679.64" y="244.4" width="1" height="18.1" fill="#f23645" opacity="0.8"/>
<rect x="679.04" y="244.9" width="2.2" height="1.2" fill="#f23645"/>
<rect x="682.59" y="242.0" width="1" height="7.8" fill="#1fa391" opacity="0.8"/>
<rect x="681.99" y="242.8" width="2.2" height="6.3" fill="#1fa391"/>
<rect x="685.55" y="234.2" width="1" height="18.1" fill="#f23645" opacity="0.8"/>
<rect x="684.95" y="242.8" width="2.2" height="7.1" fill="#f23645"/>
<rect x="688.50" y="235.7" width="1" height="14.9" fill="#1fa391" opacity="0.8"/>
<rect x="687.90" y="242.0" width="2.2" height="7.8" fill="#1fa391"/>
<rect x="691.46" y="240.4" width="1" height="9.4" fill="#f23645" opacity="0.8"/>
<rect x="690.86" y="242.0" width="2.2" height="4.7" fill="#7a1fa2"/>
<rect x="694.42" y="242.8" width="1" height="20.4" fill="#f23645" opacity="0.8"/>
<rect x="693.82" y="246.7" width="2.2" height="14.1" fill="#f23645"/>
<rect x="697.37" y="250.9" width="1" height="23.1" fill="#1fa391" opacity="0.8"/>
<rect x="696.77" y="252.5" width="2.2" height="7.8" fill="#1fa391"/>
<rect x="700.33" y="232.1" width="1" height="22.8" fill="#1fa391" opacity="0.8"/>
<rect x="699.73" y="236.8" width="2.2" height="17.3" fill="#1fa391"/>
<rect x="703.28" y="232.1" width="1" height="17.3" fill="#f23645" opacity="0.8"/>
<rect x="702.68" y="239.7" width="2.2" height="1.2" fill="#f23645"/>
<rect x="706.24" y="231.3" width="1" height="11.8" fill="#f23645" opacity="0.8"/>
<rect x="705.64" y="237.6" width="2.2" height="3.9" fill="#7a1fa2"/>
<rect x="709.19" y="238.4" width="1" height="6.3" fill="#f23645" opacity="0.8"/>
<rect x="708.59" y="239.9" width="2.2" height="3.1" fill="#f23645"/>
<rect x="712.15" y="222.7" width="1" height="21.2" fill="#1fa391" opacity="0.8"/>
<rect x="711.55" y="223.5" width="2.2" height="19.6" fill="#1fa391"/>
<rect x="715.10" y="207.0" width="1" height="20.4" fill="#1fa391" opacity="0.8"/>
<rect x="714.50" y="209.3" width="2.2" height="14.1" fill="#1fa391"/>
<rect x="718.06" y="206.2" width="1" height="9.4" fill="#f23645" opacity="0.8"/>
<rect x="717.46" y="209.3" width="2.2" height="4.7" fill="#f23645"/>
<rect x="721.02" y="213.3" width="1" height="17.3" fill="#f23645" opacity="0.8"/>
<rect x="720.42" y="214.0" width="2.2" height="15.7" fill="#f23645"/>
<rect x="723.97" y="223.5" width="1" height="18.8" fill="#f23645" opacity="0.8"/>
<rect x="723.37" y="229.0" width="2.2" height="11.8" fill="#f23645"/>
<rect x="726.93" y="233.7" width="1" height="25.1" fill="#f23645" opacity="0.8"/>
<rect x="726.33" y="240.7" width="2.2" height="11.0" fill="#f23645"/>
<rect x="729.88" y="243.9" width="1" height="14.1" fill="#1fa391" opacity="0.8"/>
<rect x="729.28" y="248.6" width="2.2" height="3.1" fill="#1432d8"/>
<rect x="732.84" y="239.2" width="1" height="11.8" fill="#1fa391" opacity="0.8"/>
<rect x="732.24" y="245.4" width="2.2" height="3.9" fill="#1432d8"/>
<rect x="735.79" y="199.1" width="1" height="22.0" fill="#1fa391" opacity="0.8"/>
<rect x="735.19" y="200.7" width="2.2" height="14.1" fill="#1fa391"/>
<rect x="738.75" y="174.7" width="1" height="27.5" fill="#1fa391" opacity="0.8"/>
<rect x="738.15" y="177.0" width="2.2" height="24.3" fill="#1fa391"/>
<rect x="741.70" y="159.7" width="1" height="18.8" fill="#1fa391" opacity="0.8"/>
<rect x="741.10" y="164.5" width="2.2" height="13.3" fill="#1fa391"/>
<rect x="744.66" y="156.6" width="1" height="16.5" fill="#1fa391" opacity="0.8"/>
<rect x="744.06" y="159.7" width="2.2" height="4.7" fill="#1432d8"/>
<rect x="747.62" y="155.8" width="1" height="33.8" fill="#f23645" opacity="0.8"/>
<rect x="747.01" y="159.0" width="2.2" height="29.8" fill="#f23645"/>
<rect x="750.57" y="168.4" width="1" height="12.6" fill="#1fa391" opacity="0.8"/>
<rect x="749.97" y="170.7" width="2.2" height="9.4" fill="#1fa391"/>
<rect x="753.53" y="166.0" width="1" height="14.9" fill="#f23645" opacity="0.8"/>
<rect x="752.93" y="171.5" width="2.2" height="6.3" fill="#7a1fa2"/>
<rect x="756.48" y="177.0" width="1" height="14.1" fill="#f23645" opacity="0.8"/>
<rect x="755.88" y="177.8" width="2.2" height="12.6" fill="#7a1fa2"/>
<rect x="759.44" y="184.9" width="1" height="17.3" fill="#f23645" opacity="0.8"/>
<rect x="758.84" y="190.4" width="2.2" height="9.4" fill="#f23645"/>
<rect x="762.39" y="195.8" width="1" height="19.2" fill="#1fa391" opacity="0.8"/>
<rect x="761.79" y="196.6" width="2.2" height="3.9" fill="#1fa391"/>
<rect x="765.35" y="187.2" width="1" height="14.1" fill="#1fa391" opacity="0.8"/>
<rect x="764.75" y="195.1" width="2.2" height="1.6" fill="#1432d8"/>
<rect x="768.30" y="173.1" width="1" height="25.1" fill="#1fa391" opacity="0.8"/>
<rect x="767.70" y="176.2" width="2.2" height="18.8" fill="#1fa391"/>
<rect x="771.26" y="174.7" width="1" height="7.8" fill="#1fa391" opacity="0.8"/>
<rect x="770.66" y="175.4" width="2.2" height="1.6" fill="#1fa391"/>
<rect x="774.21" y="162.9" width="1" height="14.9" fill="#1fa391" opacity="0.8"/>
<rect x="773.61" y="166.8" width="2.2" height="9.4" fill="#1fa391"/>
<rect x="777.17" y="159.0" width="1" height="11.8" fill="#1fa391" opacity="0.8"/>
<rect x="776.57" y="161.3" width="2.2" height="5.5" fill="#1fa391"/>
<rect x="780.13" y="155.8" width="1" height="9.4" fill="#1fa391" opacity="0.8"/>
<rect x="779.53" y="161.3" width="2.2" height="3.1" fill="#1fa391"/>
<rect x="783.08" y="161.3" width="1" height="17.3" fill="#f23645" opacity="0.8"/>
<rect x="782.48" y="162.1" width="2.2" height="11.8" fill="#f23645"/>
<rect x="786.04" y="159.0" width="1" height="22.8" fill="#1fa391" opacity="0.8"/>
<rect x="785.44" y="164.5" width="2.2" height="9.4" fill="#1fa391"/>
<rect x="788.99" y="137.8" width="1" height="34.5" fill="#1fa391" opacity="0.8"/>
<rect x="788.39" y="142.5" width="2.2" height="22.0" fill="#1fa391"/>
<rect x="791.95" y="137.8" width="1" height="11.8" fill="#1fa391" opacity="0.8"/>
<rect x="791.35" y="142.9" width="2.2" height="1.9" fill="#1432d8"/>
<rect x="794.90" y="140.1" width="1" height="6.3" fill="#1fa391" opacity="0.8"/>
<rect x="794.30" y="140.9" width="2.2" height="4.7" fill="#1432d8"/>
<rect x="797.86" y="137.0" width="1" height="17.3" fill="#f23645" opacity="0.8"/>
<rect x="797.26" y="140.9" width="2.2" height="8.6" fill="#f23645"/>
<rect x="800.81" y="139.3" width="1" height="20.4" fill="#1fa391" opacity="0.8"/>
<rect x="800.21" y="142.5" width="2.2" height="7.1" fill="#1fa391"/>
<rect x="803.77" y="141.7" width="1" height="20.4" fill="#f23645" opacity="0.8"/>
<rect x="803.17" y="142.5" width="2.2" height="18.1" fill="#f23645"/>
<rect x="806.72" y="151.1" width="1" height="11.0" fill="#1fa391" opacity="0.8"/>
<rect x="806.12" y="154.2" width="2.2" height="4.7" fill="#1432d8"/>
<rect x="809.68" y="140.9" width="1" height="11.8" fill="#1fa391" opacity="0.8"/>
<rect x="809.08" y="142.5" width="2.2" height="6.3" fill="#1fa391"/>
<rect x="812.64" y="133.5" width="1" height="11.8" fill="#1fa391" opacity="0.8"/>
<rect x="812.04" y="136.6" width="2.2" height="6.3" fill="#1fa391"/>
<rect x="815.59" y="128.0" width="1" height="15.7" fill="#1fa391" opacity="0.8"/>
<rect x="814.99" y="131.9" width="2.2" height="11.0" fill="#1fa391"/>
<rect x="818.55" y="128.8" width="1" height="13.3" fill="#f23645" opacity="0.8"/>
<rect x="817.95" y="131.9" width="2.2" height="4.7" fill="#f23645"/>
<rect x="821.50" y="134.3" width="1" height="15.2" fill="#1fa391" opacity="0.8"/>
<rect x="820.90" y="135.8" width="2.2" height="1.6" fill="#1fa391"/>
<rect x="824.46" y="124.1" width="1" height="14.9" fill="#1fa391" opacity="0.8"/>
<rect x="823.86" y="125.6" width="2.2" height="12.6" fill="#1fa391"/>
<rect x="827.41" y="117.8" width="1" height="14.1" fill="#1fa391" opacity="0.8"/>
<rect x="826.81" y="121.7" width="2.2" height="4.7" fill="#1fa391"/>
<rect x="830.37" y="95.0" width="1" height="30.6" fill="#1fa391" opacity="0.8"/>
<rect x="829.77" y="95.8" width="2.2" height="26.7" fill="#1fa391"/>
<rect x="833.32" y="84.8" width="1" height="14.9" fill="#1fa391" opacity="0.8"/>
<rect x="832.72" y="91.9" width="2.2" height="3.9" fill="#1fa391"/>
<rect x="836.28" y="89.5" width="1" height="20.4" fill="#f23645" opacity="0.8"/>
<rect x="835.68" y="91.9" width="2.2" height="17.3" fill="#f23645"/>
<rect x="839.24" y="95.0" width="1" height="14.1" fill="#1fa391" opacity="0.8"/>
<rect x="838.64" y="100.5" width="2.2" height="7.1" fill="#1432d8"/>
<rect x="842.19" y="99.0" width="1" height="17.3" fill="#f23645" opacity="0.8"/>
<rect x="841.59" y="100.5" width="2.2" height="12.6" fill="#f23645"/>
<rect x="845.15" y="102.1" width="1" height="16.5" fill="#1fa391" opacity="0.8"/>
<rect x="844.55" y="107.6" width="2.2" height="4.7" fill="#1fa391"/>
<rect x="848.10" y="106.0" width="1" height="11.8" fill="#f23645" opacity="0.8"/>
<rect x="847.50" y="107.6" width="2.2" height="1.6" fill="#7a1fa2"/>
<rect x="851.06" y="104.5" width="1" height="9.4" fill="#f23645" opacity="0.8"/>
<rect x="850.46" y="109.9" width="2.2" height="1.6" fill="#f23645"/>
<rect x="854.01" y="111.5" width="1" height="22.0" fill="#f23645" opacity="0.8"/>
<rect x="853.41" y="113.1" width="2.2" height="9.4" fill="#f23645"/>
<rect x="856.97" y="110.7" width="1" height="12.6" fill="#1fa391" opacity="0.8"/>
<rect x="856.37" y="116.2" width="2.2" height="6.3" fill="#1fa391"/>
<rect x="859.92" y="115.4" width="1" height="12.6" fill="#f23645" opacity="0.8"/>
<rect x="859.32" y="116.2" width="2.2" height="10.2" fill="#f23645"/>
<rect x="862.88" y="120.9" width="1" height="14.9" fill="#f23645" opacity="0.8"/>
<rect x="862.28" y="126.4" width="2.2" height="1.6" fill="#f23645"/>
<rect x="865.83" y="121.7" width="1" height="16.5" fill="#1fa391" opacity="0.8"/>
<rect x="865.23" y="124.1" width="2.2" height="3.9" fill="#1fa391"/>
<rect x="868.79" y="113.1" width="1" height="17.3" fill="#1fa391" opacity="0.8"/>
<rect x="868.19" y="114.7" width="2.2" height="11.8" fill="#1fa391"/>
<rect x="871.75" y="99.0" width="1" height="17.3" fill="#1fa391" opacity="0.8"/>
<rect x="871.15" y="101.3" width="2.2" height="14.1" fill="#1fa391"/>
<rect x="874.70" y="99.0" width="1" height="15.7" fill="#f23645" opacity="0.8"/>
<rect x="874.10" y="101.3" width="2.2" height="12.6" fill="#f23645"/>
<rect x="877.66" y="111.5" width="1" height="18.1" fill="#f23645" opacity="0.8"/>
<rect x="877.06" y="113.9" width="2.2" height="5.5" fill="#f23645"/>
<rect x="880.61" y="111.5" width="1" height="9.4" fill="#1fa391" opacity="0.8"/>
<rect x="880.01" y="117.0" width="2.2" height="2.4" fill="#1432d8"/>
<rect x="883.57" y="113.9" width="1" height="16.5" fill="#f23645" opacity="0.8"/>
<rect x="882.97" y="118.6" width="2.2" height="7.8" fill="#f23645"/>
<rect x="886.52" y="125.6" width="1" height="11.8" fill="#f23645" opacity="0.8"/>
<rect x="885.92" y="126.4" width="2.2" height="7.8" fill="#f23645"/>
<rect x="889.48" y="117.8" width="1" height="18.1" fill="#1fa391" opacity="0.8"/>
<rect x="888.88" y="119.4" width="2.2" height="14.1" fill="#1fa391"/>
<rect x="892.43" y="113.9" width="1" height="10.2" fill="#f23645" opacity="0.8"/>
<rect x="891.83" y="119.4" width="2.2" height="2.4" fill="#7a1fa2"/>
<rect x="895.39" y="86.4" width="1" height="36.1" fill="#1fa391" opacity="0.8"/>
<rect x="894.79" y="87.2" width="2.2" height="34.5" fill="#1fa391"/>
<rect x="898.35" y="87.2" width="1" height="14.9" fill="#f23645" opacity="0.8"/>
<rect x="897.75" y="88.0" width="2.2" height="10.2" fill="#f23645"/>
<rect x="901.30" y="97.4" width="1" height="21.2" fill="#f23645" opacity="0.8"/>
<rect x="900.70" y="98.2" width="2.2" height="12.6" fill="#f23645"/>
<rect x="904.26" y="109.2" width="1" height="10.2" fill="#f23645" opacity="0.8"/>
<rect x="903.66" y="110.7" width="2.2" height="3.1" fill="#7a1fa2"/>
<rect x="907.21" y="102.9" width="1" height="12.2" fill="#1fa391" opacity="0.8"/>
<rect x="906.61" y="106.0" width="2.2" height="8.3" fill="#1fa391"/>
<rect x="910.17" y="105.2" width="1" height="8.6" fill="#f23645" opacity="0.8"/>
<rect x="909.57" y="106.0" width="2.2" height="6.3" fill="#7a1fa2"/>
<rect x="913.12" y="105.2" width="1" height="11.8" fill="#1fa391" opacity="0.8"/>
<rect x="912.52" y="109.2" width="2.2" height="3.9" fill="#1fa391"/>
<rect x="916.08" y="98.2" width="1" height="11.8" fill="#1fa391" opacity="0.8"/>
<rect x="915.48" y="100.5" width="2.2" height="8.6" fill="#1fa391"/>
<rect x="919.03" y="97.4" width="1" height="7.1" fill="#f23645" opacity="0.8"/>
<rect x="918.43" y="100.2" width="2.2" height="1.6" fill="#f23645"/>
<rect x="921.99" y="93.5" width="1" height="17.3" fill="#f23645" opacity="0.8"/>
<rect x="921.39" y="102.1" width="2.2" height="6.3" fill="#f23645"/>
<rect x="924.94" y="101.3" width="1" height="8.6" fill="#1fa391" opacity="0.8"/>
<rect x="924.34" y="104.5" width="2.2" height="3.9" fill="#1fa391"/>
<rect x="927.90" y="101.3" width="1" height="7.1" fill="#1fa391" opacity="0.8"/>
<rect x="927.30" y="102.1" width="2.2" height="3.1" fill="#1fa391"/>
<rect x="930.86" y="97.4" width="1" height="8.6" fill="#1fa391" opacity="0.8"/>
<rect x="930.26" y="100.5" width="2.2" height="2.4" fill="#1fa391"/>
<rect x="933.81" y="80.1" width="1" height="22.0" fill="#1fa391" opacity="0.8"/>
<rect x="933.21" y="84.0" width="2.2" height="17.3" fill="#1fa391"/>
<rect x="936.77" y="80.1" width="1" height="9.4" fill="#1fa391" opacity="0.8"/>
<rect x="936.17" y="80.9" width="2.2" height="2.4" fill="#1fa391"/>
<rect x="939.72" y="64.4" width="1" height="20.4" fill="#1fa391" opacity="0.8"/>
<rect x="939.12" y="66.0" width="2.2" height="14.9" fill="#1fa391"/>
<rect x="942.68" y="60.5" width="1" height="20.4" fill="#f23645" opacity="0.8"/>
<rect x="942.08" y="66.0" width="2.2" height="11.0" fill="#f23645"/>
<rect x="945.63" y="76.2" width="1" height="1.6" fill="#f23645" opacity="0.8"/>
<rect x="945.03" y="76.2" width="2.2" height="1.6" fill="#f23645"/>
<path d="M9.3 185.4C12.2 184.9 20.4 183.5 26.6 182.4C32.8 181.3 39.8 179.8 46.5 178.7C53.1 177.6 59.8 176.3 66.4 175.7C73.0 175.1 79.7 175.1 86.3 175.1C93.0 175.0 100.7 175.7 106.2 175.4C111.8 175.1 114.0 174.0 119.5 173.1C125.1 172.1 132.8 170.9 139.4 169.8C146.1 168.7 152.7 167.5 159.4 166.4C166.0 165.4 172.6 164.2 179.3 163.5C185.9 162.7 192.6 162.3 199.2 162.1C205.8 162.0 212.5 162.1 219.1 162.5C225.8 162.8 232.4 163.5 239.0 164.1C245.7 164.8 252.3 165.5 259.0 166.4C265.6 167.4 272.2 168.5 278.9 169.8C285.5 171.0 292.2 172.4 298.8 173.7C305.4 175.1 311.9 176.6 318.7 178.1C325.6 179.5 334.1 181.1 339.8 182.5C345.6 183.9 348.7 184.9 353.1 186.5C357.5 188.2 362.0 190.4 366.4 192.5C370.8 194.5 375.3 196.8 379.7 198.8C384.1 200.9 388.5 203.1 393.0 204.8C397.4 206.5 401.8 207.9 406.2 209.1C410.7 210.3 415.1 211.6 419.5 212.1C423.9 212.6 428.4 211.9 432.8 212.1C437.2 212.3 440.5 212.7 446.1 213.1C451.6 213.5 459.4 214.1 466.0 214.4C472.6 214.7 480.4 215.0 485.9 215.1C491.5 215.2 493.7 215.3 499.2 215.1C504.7 214.8 512.5 213.9 519.1 213.4C525.8 213.0 532.4 212.7 539.0 212.4C545.7 212.1 552.3 211.8 559.0 211.8C565.6 211.7 572.2 211.9 578.9 212.1C585.5 212.3 592.2 212.5 598.8 213.1C605.4 213.7 611.9 214.6 618.7 215.7C625.6 216.9 633.1 218.9 639.9 220.1C646.8 221.4 653.2 222.6 659.8 223.5C666.5 224.4 673.1 224.8 679.8 225.5C686.4 226.1 693.0 226.3 699.7 227.1C706.3 227.9 714.1 229.1 719.6 230.1C725.1 231.2 727.3 232.3 732.9 233.4C738.4 234.5 746.2 235.8 752.8 236.7C759.4 237.7 766.1 238.7 772.7 239.4C779.4 240.1 786.0 240.7 792.6 241.1C799.3 241.4 805.9 241.7 812.6 241.4C819.2 241.1 825.8 240.3 832.5 239.4C839.1 238.5 845.8 237.2 852.4 236.1C859.0 235.0 865.7 234.0 872.3 232.8C879.0 231.5 885.6 230.1 892.2 228.8C898.9 227.5 905.5 226.3 912.2 225.1C918.8 224.0 926.4 222.9 932.1 221.8C937.7 220.7 943.7 219.0 946.0 218.5" fill="none" stroke="#111" stroke-width="2.1" stroke-linecap="round"/>
<path d="M9.3 271.7C11.1 270.5 15.9 267.4 19.9 264.4C23.9 261.3 28.8 257.0 33.2 253.4C37.6 249.8 42.1 247.3 46.5 242.8C50.9 238.3 55.3 231.7 59.8 226.2C64.2 220.7 68.6 214.5 73.0 209.6C77.5 204.7 81.9 200.6 86.3 197.0C90.7 193.4 95.2 191.2 99.6 188.0C104.0 184.9 108.5 181.1 112.9 178.1C117.3 175.0 121.7 172.7 126.2 169.8C130.6 166.8 135.0 163.7 139.4 160.5C143.9 157.3 148.3 153.4 152.7 150.5C157.1 147.6 161.6 145.5 166.0 143.2C170.4 140.9 174.9 138.4 179.3 136.6C183.7 134.7 188.1 133.2 192.6 132.2C197.0 131.3 201.4 131.1 205.8 130.9C210.3 130.8 215.3 131.0 219.1 131.2C223.0 131.5 225.8 132.6 229.1 132.2C232.4 131.9 235.2 130.2 239.0 129.3C242.9 128.3 248.5 126.7 252.3 126.6C256.2 126.5 258.4 127.4 262.3 128.9C266.2 130.5 271.1 133.0 275.6 135.9C280.0 138.8 284.4 142.5 288.8 146.5C293.3 150.5 297.7 155.5 302.1 159.8C306.6 164.1 311.0 168.7 315.4 172.4C319.8 176.2 324.6 179.2 328.7 182.4C332.8 185.6 335.8 188.2 339.8 191.5C343.9 194.8 348.7 198.3 353.1 202.5C357.5 206.6 362.0 211.6 366.4 216.4C370.8 221.2 375.3 226.7 379.7 231.3C384.1 235.9 389.6 240.9 393.0 244.0C396.3 247.0 396.3 247.4 399.6 249.6C402.9 251.8 408.5 254.7 412.9 256.9C417.3 259.1 421.7 261.3 426.2 262.9C430.6 264.4 435.0 264.8 439.4 266.2C443.9 267.6 448.3 269.2 452.7 271.2C457.1 273.1 461.6 275.2 466.0 277.8C470.4 280.5 474.9 284.3 479.3 287.1C483.7 289.9 488.7 292.9 492.6 294.8C496.4 296.6 499.2 297.6 502.5 298.1C505.8 298.6 508.6 298.5 512.5 297.7C516.4 297.0 521.3 294.7 525.8 293.8C530.2 292.8 534.6 293.2 539.0 292.1C543.5 291.0 547.9 288.8 552.3 287.1C556.8 285.4 561.7 283.0 565.6 281.8C569.5 280.6 572.2 280.5 575.6 280.1C578.9 279.8 581.7 280.7 585.5 279.5C589.4 278.3 594.4 275.1 598.8 272.8C603.2 270.6 607.7 268.1 612.1 266.2C616.5 264.3 621.8 262.5 625.4 261.2C628.9 260.0 629.7 259.7 633.3 258.7C636.8 257.6 642.1 255.9 646.6 254.7C651.0 253.5 655.4 252.6 659.8 251.4C664.3 250.1 668.7 248.7 673.1 247.4C677.5 246.0 682.0 244.3 686.4 243.4C690.8 242.5 695.3 242.4 699.7 242.1C704.1 241.7 708.5 241.7 713.0 241.4C717.4 241.1 722.6 240.4 726.2 240.1C729.8 239.7 731.2 240.2 734.5 239.4C737.9 238.6 742.0 236.7 746.2 235.1C750.3 233.4 755.0 231.5 759.4 229.4C763.9 227.4 768.3 225.0 772.7 222.8C777.1 220.6 781.6 218.7 786.0 216.2C790.4 213.7 794.9 210.6 799.3 207.9C803.7 205.1 808.1 202.4 812.6 199.6C817.0 196.7 821.4 194.2 825.8 190.6C830.3 187.0 834.7 182.0 839.1 178.0C843.6 173.9 848.0 170.0 852.4 166.4C856.8 162.8 861.3 159.8 865.7 156.4C870.1 153.0 875.6 148.3 879.0 145.8C882.3 143.3 882.8 142.8 885.6 141.5C888.4 140.1 891.7 139.4 895.6 137.5C899.4 135.5 904.4 132.2 908.8 129.8C913.3 127.5 917.7 125.3 922.1 123.2C926.6 121.1 931.4 119.0 935.4 117.2C939.4 115.5 944.3 113.4 946.0 112.6" fill="none" stroke="#3a3af8" stroke-width="2.0" stroke-linecap="round"/>
<path d="M9.5 413.0C10.8 412.8 14.9 411.9 17.5 411.5C20.1 411.1 22.1 410.5 25.0 410.5C27.9 410.5 31.7 410.9 35.0 411.2C38.3 411.6 41.7 412.1 45.0 412.5C48.3 412.9 51.7 413.3 55.0 413.8C58.3 414.2 61.7 414.5 65.0 415.0C68.3 415.5 71.7 416.0 75.0 417.0C78.3 418.0 81.7 419.5 85.0 421.2C88.3 423.0 92.1 425.7 95.0 427.5C97.9 429.3 100.0 430.8 102.5 432.0C105.0 433.2 107.7 434.4 110.0 435.0C112.3 435.6 114.2 436.0 116.2 435.8C118.3 435.5 120.2 434.9 122.5 433.8C124.8 432.6 127.5 430.6 130.0 428.8C132.5 426.9 135.0 424.5 137.5 422.5C140.0 420.5 142.5 418.3 145.0 417.0C147.5 415.7 150.0 415.2 152.5 414.5C155.0 413.8 157.5 413.5 160.0 413.0C162.5 412.5 164.6 411.2 167.5 411.2C170.4 411.2 174.2 411.9 177.5 413.0C180.8 414.1 183.8 416.2 187.5 418.0C191.2 419.8 195.8 421.8 200.0 423.8C204.2 425.8 208.3 427.9 212.5 430.0C216.7 432.1 220.8 434.6 225.0 436.2C229.2 437.9 233.8 439.1 237.5 440.0C241.2 440.9 244.2 440.8 247.5 441.5C250.8 442.2 254.6 443.8 257.5 444.5C260.4 445.2 262.5 445.5 265.0 445.5C267.5 445.5 270.0 444.8 272.5 444.5C275.0 444.2 277.5 443.5 280.0 443.8C282.5 444.0 285.0 445.5 287.5 446.2C290.0 447.0 292.5 447.9 295.0 448.0C297.5 448.1 300.0 447.6 302.5 447.0C305.0 446.4 307.5 445.1 310.0 444.5C312.5 443.9 315.0 444.0 317.5 443.2C320.0 442.5 322.5 441.2 325.0 440.0C327.5 438.8 330.2 436.9 332.5 435.8C334.8 434.6 336.7 433.3 338.8 433.0C340.8 432.7 342.7 433.5 345.0 433.8C347.3 434.0 350.2 434.3 352.5 434.5C354.8 434.7 356.7 434.3 358.8 435.0C360.8 435.7 362.7 437.3 365.0 438.8C367.3 440.2 370.0 442.2 372.5 443.8C375.0 445.3 377.7 447.2 380.0 448.0C382.3 448.8 384.2 448.7 386.2 448.8C388.3 448.8 390.2 448.3 392.5 448.2C394.8 448.2 397.5 448.8 400.0 448.2C402.5 447.7 404.6 446.4 407.5 445.0C410.4 443.6 414.6 441.8 417.5 440.0C420.4 438.2 422.5 435.8 425.0 434.2C427.5 432.7 429.6 431.4 432.5 430.5C435.4 429.6 439.2 428.8 442.5 428.8C445.8 428.7 449.2 429.7 452.5 430.0C455.8 430.3 459.6 429.9 462.5 430.5C465.4 431.1 467.5 433.0 470.0 433.8C472.5 434.5 474.6 435.0 477.5 435.0C480.4 435.0 484.2 434.2 487.5 433.8C490.8 433.2 494.2 432.6 497.5 432.0C500.8 431.4 504.6 430.8 507.5 430.0C510.4 429.2 512.5 427.9 515.0 427.5C517.5 427.1 519.6 427.3 522.5 427.5C525.4 427.7 529.2 428.5 532.5 428.8C535.8 429.0 539.6 429.0 542.5 428.8C545.4 428.5 547.5 427.8 550.0 427.5C552.5 427.2 555.0 427.5 557.5 426.8C560.0 426.0 562.5 424.4 565.0 423.2C567.5 422.1 570.0 420.8 572.5 420.0C575.0 419.2 577.3 419.0 580.0 418.8C582.7 418.5 585.8 418.5 588.8 418.2C591.7 418.0 594.8 417.1 597.5 417.5C600.2 417.9 602.5 419.5 605.0 420.5C607.5 421.5 610.0 422.8 612.5 423.2C615.0 423.7 617.5 423.1 620.0 423.2C622.5 423.4 625.0 423.8 627.5 424.2C630.0 424.8 632.1 425.7 635.0 426.2C637.9 426.8 641.7 427.1 645.0 427.5C648.3 427.9 651.7 428.4 655.0 428.8C658.3 429.1 661.7 429.4 665.0 429.5C668.3 429.6 671.7 429.4 675.0 429.5C678.3 429.6 681.7 429.8 685.0 430.0C688.3 430.2 691.7 430.5 695.0 430.5C698.3 430.5 701.7 430.3 705.0 430.0C708.3 429.7 712.1 429.2 715.0 428.8C717.9 428.2 719.6 427.2 722.5 427.0C725.4 426.8 729.6 428.0 732.5 427.5C735.4 427.0 737.5 425.0 740.0 423.8C742.5 422.5 744.6 420.5 747.5 420.0C750.4 419.5 754.6 420.4 757.5 420.5C760.4 420.6 762.5 420.8 765.0 420.5C767.5 420.2 769.6 419.2 772.5 418.8C775.4 418.2 779.2 417.9 782.5 417.5C785.8 417.1 789.2 416.6 792.5 416.2C795.8 415.9 799.2 415.7 802.5 415.5C805.8 415.3 809.2 415.2 812.5 415.0C815.8 414.8 819.2 414.7 822.5 414.2C825.8 413.8 829.2 412.9 832.5 412.5C835.8 412.1 839.6 412.0 842.5 411.8C845.4 411.5 847.5 411.1 850.0 411.2C852.5 411.4 855.0 411.9 857.5 412.5C860.0 413.1 862.5 414.0 865.0 415.0C867.5 416.0 870.0 417.1 872.5 418.2C875.0 419.4 877.5 421.0 880.0 422.0C882.5 423.0 885.0 423.9 887.5 424.5C890.0 425.1 892.5 425.4 895.0 425.5C897.5 425.6 899.6 425.1 902.5 425.0C905.4 424.9 909.2 425.1 912.5 425.0C915.8 424.9 919.6 424.8 922.5 424.5C925.4 424.2 927.5 423.7 930.0 423.2C932.5 422.8 934.9 422.5 937.5 422.0C940.1 421.5 944.2 420.8 945.5 420.5" fill="none" stroke="#e4f05e" stroke-width="1.3"/>
<path d="M9.5 405.5L12.0 410.5L14.5 409.5L17.5 406.2L23.0 405.8L25.0 408.8L27.0 415.8L30.0 412.5L33.0 418.2L35.8 421.5L38.0 410.0L41.2 419.5L44.5 421.5L50.0 414.2L56.2 408.2L58.8 420.0L62.0 418.8L65.5 418.2L68.0 415.8L71.0 420.5L74.5 420.5L77.5 425.0L80.0 431.2L83.0 439.0L85.5 437.0L88.8 443.8L91.2 444.5L95.0 444.2L97.5 438.0L100.0 440.0L103.2 441.0L106.2 432.5L109.2 428.8L112.0 425.8L115.0 425.0L117.5 420.0L121.2 417.5L124.2 421.8L127.5 413.0L130.0 406.2L133.2 412.5L136.2 410.0L139.5 408.8L142.5 407.0L145.0 408.8L147.5 415.8L150.0 413.8L153.0 412.5L156.2 415.0L159.5 413.2L162.5 410.5L165.5 409.5L168.8 412.5L172.0 416.2L174.2 418.0L177.5 415.0L180.5 430.0L183.8 437.0L187.0 428.8L190.0 433.0L192.5 433.8L195.0 427.5L198.0 430.0L200.8 430.8L204.2 439.5L207.0 433.0L210.0 434.5L213.0 439.5L215.5 434.2L218.8 436.2L221.2 438.8L224.5 446.2L227.5 452.5L230.5 452.0L233.8 446.2L237.0 442.0L239.2 430.0L242.0 438.8L245.0 440.8L248.0 444.2L252.0 440.8L255.0 445.5L257.5 450.8L260.0 451.8L263.0 448.2L266.2 450.8L268.8 450.0L272.0 443.8L274.5 439.2L277.5 443.8L280.5 442.0L283.8 445.5L287.0 450.0L290.0 450.8L293.0 453.0L296.2 447.5L298.8 444.5L301.8 445.5L305.0 438.8L308.0 435.5L310.8 435.8L313.8 438.8L317.0 437.5L319.5 433.8L322.5 423.8L325.8 429.5L328.2 425.0L330.5 422.0L333.8 430.5L336.8 430.0L340.0 432.5L343.0 435.5L346.2 451.2L349.2 443.8L352.5 438.8L355.0 444.5L358.0 436.8L361.2 448.8L364.5 451.2L367.5 452.5L370.0 451.2L373.0 455.0L375.8 451.2L378.8 453.0L381.8 455.8L384.5 449.5L387.0 440.8L390.0 443.8L393.2 438.0L396.2 443.8L399.5 440.8L402.0 437.5L405.0 427.5L408.0 428.8L411.2 433.8L414.2 439.2L417.5 431.2L420.0 425.0L422.5 426.8L425.0 417.0L428.0 420.5L431.2 424.5L434.5 428.2L437.5 428.8L440.5 432.5L443.8 434.5L446.2 436.2L449.2 435.0L452.0 440.8L455.0 439.5L458.0 431.2L461.2 429.5L464.2 432.5L467.5 433.0L470.0 439.2L472.0 432.5L475.8 437.5L478.8 432.5L482.0 427.5L485.0 428.8L488.0 427.5L490.8 430.0L493.8 434.5L497.0 430.0L500.0 427.5L503.0 425.0L506.0 425.8L508.8 423.8L511.2 420.8L513.8 420.5L517.0 428.8L520.0 427.5L523.0 432.5L525.8 430.8L528.8 435.0L532.0 438.8L535.0 436.8L538.0 428.0L540.5 430.0L543.8 420.5L546.2 418.2L549.2 420.0L552.5 420.8L555.5 415.0L558.8 412.0L561.8 407.5L564.5 415.8L567.5 412.5L570.8 411.8L573.2 422.5L576.2 427.5L578.8 429.2L582.5 426.2L585.5 421.2L588.2 416.8L591.2 417.5L594.5 410.8L597.5 407.0L600.0 429.5L603.0 430.5L606.2 428.0L609.2 429.5L612.0 430.8L615.0 427.5L618.0 425.0L621.2 427.0L623.8 429.5L626.8 427.5L629.5 431.8L632.5 427.5L635.5 428.8L638.8 430.8L641.2 424.2L644.5 433.8L647.5 428.8L650.5 430.8L653.0 430.0L655.8 433.2L658.8 433.2L662.0 431.2L665.0 423.2L668.0 425.5L671.2 422.5L673.8 431.2L676.8 430.5L680.0 431.2L683.2 431.2L685.8 432.5L688.8 428.8L691.8 432.0L695.0 438.8L698.0 434.5L700.5 425.5L703.8 425.8L706.8 428.0L709.5 427.5L712.5 418.8L715.5 413.0L718.8 415.8L721.8 427.5L724.5 433.0L727.5 436.8L730.5 435.0L733.2 433.0L736.2 414.2L739.2 408.0L742.0 404.5L745.0 403.8L748.0 418.2L753.0 415.0L756.2 421.2L760.0 425.0L763.0 424.2L766.2 423.8L769.2 417.5L772.0 415.8L775.0 413.8L778.0 413.0L780.5 413.2L783.8 420.0L786.8 415.5L789.5 409.5L792.5 410.0L795.5 409.5L798.2 413.2L801.2 412.5L804.2 421.2L807.5 419.5L810.5 415.8L813.0 415.0L815.8 411.8L818.8 414.2L822.0 414.5L824.5 410.0L827.5 408.8L830.5 400.5L833.8 400.0L836.8 410.8L839.2 408.8L842.5 416.2L845.5 415.0L848.8 416.2L851.8 418.2L854.5 423.8L857.5 421.2L860.5 427.0L863.2 428.0L866.2 425.0L869.2 420.0L872.0 415.0L874.5 421.2L877.5 426.2L880.5 425.8L883.8 430.5L886.2 434.5L889.2 427.5L892.0 428.0L895.5 414.2L898.2 418.8L901.2 425.0L904.2 427.5L907.0 424.2L910.0 427.5L913.0 424.5L916.2 421.8L919.2 423.0L922.5 426.2L925.5 424.5L928.2 423.0L931.2 422.5L933.8 415.0L936.8 413.2L939.5 408.0L942.5 414.2L945.5 415.8" fill="none" stroke="#b063d6" stroke-width="1.2" stroke-linejoin="round"/>
<g fill="#131313"><path d="M10.6 534.1H20.8V547H15.5V539.6H10.6Z"/><circle cx="23.7" cy="536.4" r="2.2"/><path d="M27.5 534.1H36.3L31.2 547H25.4Z"/></g>
</svg>
<div class="t hdr">Faraday_JDutta created with TradingView.com, Jan 14, 2026 22:20 UTC</div>
<div class="t title">USD/JPY DAILY CHART</div>
<div class="t ax" style="top:47.7px">160.000</div>
<div class="t ax" style="top:78.5px">158.000</div>
<div class="t ax" style="top:109.3px">156.000</div>
<div class="t ax" style="top:140.1px">154.000</div>
<div class="t ax" style="top:170.9px">152.000</div>
<div class="t ax" style="top:201.7px">150.000</div>
<div class="t ax" style="top:232.5px">148.000</div>
<div class="t ax" style="top:263.3px">146.000</div>
<div class="t ax" style="top:294.1px">144.000</div>
<div class="t ax" style="top:324.9px">142.000</div>
<div class="t ax" style="top:355.7px">140.000</div>
<div class="clip" style="top:380px;height:12px"><div class="t ax" style="left:5px;top:6.5px">138.000</div></div>
<div class="t ax" style="left:970px;top:396px">75.00</div>
<div class="clip" style="top:450px;height:12px"><div class="t ax" style="left:5px;top:6.2px">25.00</div></div>
<div class="t tm" style="left:29.5px">Nov</div>
<div class="t tm" style="left:91.5px">Dec</div>
<div class="t tm b" style="left:153.5px">2025</div>
<div class="t tm" style="left:218px">Feb</div>
<div class="t tm" style="left:277.5px">Mar</div>
<div class="t tm" style="left:340px">Apr</div>
<div class="t tm" style="left:405px">May</div>
<div class="t tm" style="left:470px">Jun</div>
<div class="t tm" style="left:532px">Jul</div>
<div class="t tm" style="left:600px">Aug</div>
<div class="t tm" style="left:662px">Sep</div>
<div class="t tm" style="left:727px">Oct</div>
<div class="t tm" style="left:795px">Nov</div>
<div class="t tm" style="left:854.5px">Dec</div>
<div class="t tm b" style="left:919px">2026</div>
<div class="box" style="top:24px;background:#1f0954">161.951</div>
<div class="box" style="top:70px;background:#1a1aff">158.368</div>
<div class="box" style="top:106px;background:#2a2aff">156.036</div>
<div class="box" style="top:212px;background:#000">149.166</div>
<div class="box" style="top:408.5px;width:29px;background:#9b4fc8">62.11</div>
<div class="box" style="top:423.5px;width:29px;background:#e3fb2c;color:#222;-webkit-text-stroke:0.3px #222">58.08</div>
<div class="t logo">TradingView</div>
</body></html>
